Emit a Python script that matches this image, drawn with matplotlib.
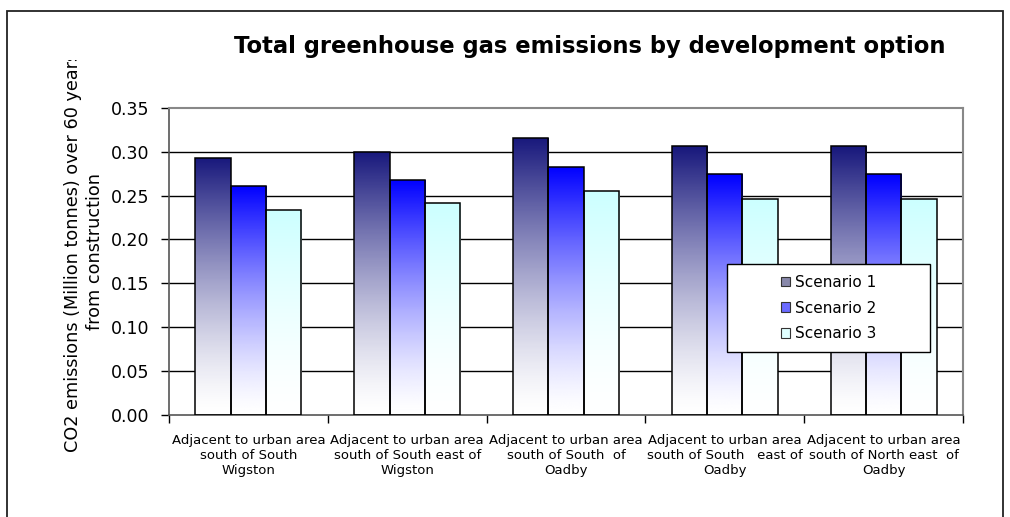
import numpy as np
import matplotlib
matplotlib.use("Agg")
import matplotlib.pyplot as plt
from matplotlib.patches import Rectangle, Patch
from matplotlib.transforms import Bbox, TransformedBbox
from matplotlib.colors import LinearSegmentedColormap

# Data
categories = [
    "Adjacent to urban area\nsouth of South\nWigston",
    "Adjacent to urban area\nsouth of South east of\nWigston",
    "Adjacent to urban area\nsouth of South  of\nOadby",
    "Adjacent to urban area\nsouth of South   east of\nOadby",
    "Adjacent to urban area\nsouth of North east  of\nOadby",
]
series_names = ["Scenario 1", "Scenario 2", "Scenario 3"]
scenario_1 = [0.293, 0.300, 0.316, 0.306, 0.306]
scenario_2 = [0.261, 0.268, 0.283, 0.274, 0.274]
scenario_3 = [0.234, 0.241, 0.255, 0.246, 0.246]
yticks = [0.00, 0.05, 0.10, 0.15, 0.20, 0.25, 0.30, 0.35]

top_colors = ["#18187c", "#0000ff", "#ccffff"]
legend_colors = ["#8888aa", "#6a6aff", "#e0ffff"]

W, H = 1010, 517
fig = plt.figure(figsize=(W / 100, H / 100), dpi=100)
ax = fig.add_axes([169 / W, 1 - 415 / H, (963 - 169) / W, (415 - 107.7) / H])

x = np.arange(len(categories))
bar_w = 1 / 4.5
all_series = [scenario_1, scenario_2, scenario_3]

for k, (vals, col) in enumerate(zip(all_series, top_colors)):
    cmap = LinearSegmentedColormap.from_list("g%d" % k, ["#ffffff", col])
    bars = ax.bar(x + (k - 1) * bar_w, vals, bar_w, facecolor="none",
                  edgecolor="black", linewidth=1.1, zorder=3)
    for b in bars:
        # vertical gradient inside each bar, darkest at the top
        t = np.linspace(0, 1, 256) ** 1.4
        grad = t[:, None]
        im = ax.imshow(grad, extent=[b.get_x(), b.get_x() + b.get_width(), 0, b.get_height()],
                       origin="lower", aspect="auto", cmap=cmap, vmin=0, vmax=1, zorder=2)
        im.set_clip_path(b)

ax.set_xlim(-0.5, len(categories) - 0.5)
ax.set_ylim(0, 0.35)
ax.set_yticks(yticks)
ax.set_yticklabels(["%.2f" % v for v in yticks], fontsize=12.5)
ax.set_xticks(x)
ax.set_xticklabels(categories, fontsize=9.5)
ax.set_xticks(np.arange(-0.5, len(categories)), minor=True)
ax.tick_params(axis="x", which="major", length=0, pad=14)
ax.tick_params(axis="x", which="minor", length=6, width=1, direction="out")
ax.tick_params(axis="y", length=6, width=1, direction="out", pad=8)

for v in yticks[1:-1]:
    ax.axhline(v, color="black", linewidth=1, zorder=1)

for s in ["top", "right"]:
    ax.spines[s].set_color("#888888")
    ax.spines[s].set_linewidth(1.5)
for s in ["left", "bottom"]:
    ax.spines[s].set_color("#555555")
    ax.spines[s].set_linewidth(1.2)

# legend box
lx0, lx1 = (727 - 169) / 794, (930 - 169) / 794
ly0, ly1 = (415 - 352) / 307.3, (415 - 264) / 307.3
ax.add_patch(Rectangle((lx0, ly0), lx1 - lx0, ly1 - ly0, transform=ax.transAxes,
                       facecolor="white", edgecolor="black", linewidth=1, zorder=5))
handles = [Patch(facecolor=c, edgecolor="#333333", linewidth=0.8) for c in legend_colors]
leg = ax.legend(handles, series_names, loc="center", bbox_to_anchor=((lx0 + lx1) / 2, (ly0 + ly1) / 2),
                frameon=False, fontsize=11, handlelength=0.6, handleheight=0.6,
                handletextpad=0.3, labelspacing=0.7)
leg.set_zorder(6)

fig.text(590 / W, 1 - 46 / H, "Total greenhouse gas emissions by development option",
         ha="center", va="center", fontsize=16.3, fontweight="bold")

ylab = fig.text(84 / W, 1 - 252 / H,
                "CO2 emissions (Million tonnes) over 60 years\nfrom construction",
                rotation=90, ha="center", va="center", multialignment="center",
                fontsize=12.7, linespacing=1.25)
ylab.set_clip_box(TransformedBbox(Bbox([[0, 0], [1, 1 - 60 / H]]), fig.transFigure))
ylab.set_clip_on(True)

fig.patches.append(Rectangle((7 / W, -0.1), (1003 - 7) / W, 1.1 - 10.7 / H,
                             transform=fig.transFigure, fill=False,
                             edgecolor="#222222", linewidth=1.3))

fig.savefig("out.png", dpi=100)
